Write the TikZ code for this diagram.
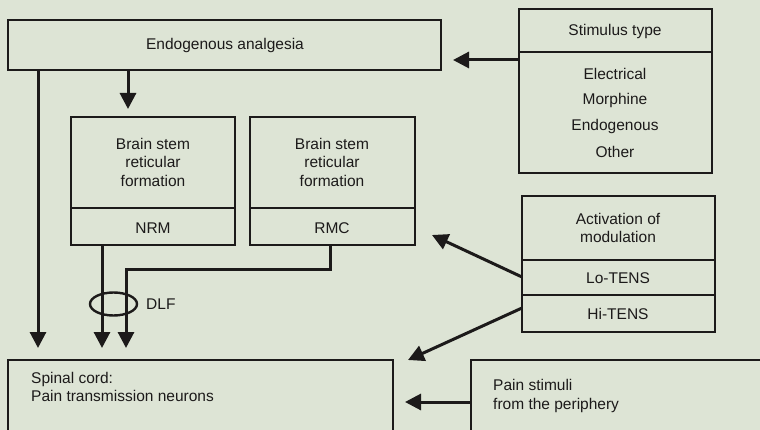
\documentclass[tikz,border=0pt]{standalone}
\usepackage{fontspec}
\setmainfont{Liberation Sans}
\usepackage{tikz}
\usetikzlibrary{arrows.meta,backgrounds,positioning}
\definecolor{paper}{RGB}{221,228,213}
\definecolor{ink}{RGB}{28,26,26}
\pgfdeclarelayer{bglayer}
\pgfdeclarelayer{edgelayer}
\pgfdeclarelayer{nodelayer}
\pgfsetlayers{bglayer,nodelayer,main,edgelayer}
\tikzset{
	box/.style={draw=ink, line width=1.7pt},
	txt/.style={text=ink, font={\fontsize{15.5}{18.5}\selectfont}, align=center, inner sep=0pt},
	fat/.style={draw=ink, line width=3pt, -{Triangle[length=16pt,width=16pt]}},
}

\begin{document}
\begin{tikzpicture}[x=1pt, y=-1pt, thick]
	\useasboundingbox (0,0) rectangle (760,430);
	\clip (0,0) rectangle (760,430);
	\begin{pgfonlayer}{bglayer}
		\fill [paper] (0,0) rectangle (760,430);
	\end{pgfonlayer}
	\begin{pgfonlayer}{nodelayer}
		% corners of the boxes
		\node [] (0) at (8, 20) {};
		\node [] (1) at (441, 70) {};
		\node [] (2) at (71, 117) {};
		\node [] (3) at (235, 245) {};
		\node [] (4) at (71, 208) {};
		\node [] (5) at (235, 208) {};
		\node [] (6) at (250, 117) {};
		\node [] (7) at (415, 245) {};
		\node [] (8) at (250, 208) {};
		\node [] (9) at (415, 208) {};
		\node [] (10) at (519, 9) {};
		\node [] (11) at (712, 173) {};
		\node [] (12) at (519, 52) {};
		\node [] (13) at (712, 52) {};
		\node [] (14) at (522, 196) {};
		\node [] (15) at (715, 332) {};
		\node [] (16) at (522, 260) {};
		\node [] (17) at (715, 260) {};
		\node [] (18) at (522, 295) {};
		\node [] (19) at (715, 295) {};
		\node [] (20) at (8, 360) {};
		\node [] (21) at (393, 445) {};
		\node [] (22) at (471, 360) {};
		\node [] (23) at (775, 445) {};
		% connector ends
		\node [] (24) at (38, 70) {};
		\node [] (25) at (38, 348) {};
		\node [] (26) at (128, 70) {};
		\node [] (27) at (128, 109) {};
		\node [] (28) at (102, 245) {};
		\node [] (29) at (102, 348) {};
		\node [] (30) at (330, 245) {};
		\node [] (31) at (330, 270) {};
		\node [] (32) at (126, 270) {};
		\node [] (33) at (126, 348) {};
		\node [] (34) at (519, 60) {};
		\node [] (35) at (453, 60) {};
		\node [] (36) at (522, 277) {};
		\node [] (37) at (432, 235) {};
		\node [] (38) at (522, 308) {};
		\node [] (39) at (408, 360) {};
		\node [] (40) at (471, 402) {};
		\node [] (41) at (405, 402) {};
		\node [] (42) at (113.5, 304) {};
		% texts
		\node [txt] (43) at (225, 45) {Endogenous analgesia};
		\node [txt] (44) at (153, 162) {Brain stem\\reticular\\formation};
		\node [txt] (45) at (153, 228) {NRM};
		\node [txt] (46) at (332, 162) {Brain stem\\reticular\\formation};
		\node [txt] (47) at (332, 228) {RMC};
		\node [txt] (48) at (615, 31) {Stimulus type};
		\node [txt] (49) at (615, 74) {Electrical};
		\node [txt] (50) at (615, 100) {Morphine};
		\node [txt] (51) at (615, 126) {Endogenous};
		\node [txt] (52) at (615, 152) {Other};
		\node [txt] (53) at (618, 228) {Activation of\\modulation};
		\node [txt] (54) at (618, 278) {Lo-TENS};
		\node [txt] (55) at (618, 314) {Hi-TENS};
		\node [txt, right, align=left] (56) at (31, 387) {Spinal cord:\\Pain transmission neurons};
		\node [txt, right, align=left] (57) at (493, 396) {Pain stimuli\\from the periphery};
		\node [txt, right] (58) at (146, 304) {DLF};
	\end{pgfonlayer}
	\begin{pgfonlayer}{edgelayer}
		\draw [box] (0.center) rectangle (1.center);
		\draw [box] (2.center) rectangle (3.center);
		\draw [box] (4.center) to (5.center);
		\draw [box] (6.center) rectangle (7.center);
		\draw [box] (8.center) to (9.center);
		\draw [box] (10.center) rectangle (11.center);
		\draw [box] (12.center) to (13.center);
		\draw [box] (14.center) rectangle (15.center);
		\draw [box] (16.center) to (17.center);
		\draw [box] (18.center) to (19.center);
		\draw [box] (20.center) rectangle (21.center);
		\draw [box] (22.center) rectangle (23.center);
		\draw [fat] (24.center) to (25.center);
		\draw [fat] (26.center) to (27.center);
		\draw [fat] (28.center) to (29.center);
		\draw [fat] (30.center) to (31.center) to (32.center) to (33.center);
		\draw [fat] (34.center) to (35.center);
		\draw [fat] (36.center) to (37.center);
		\draw [fat] (38.center) to (39.center);
		\draw [fat] (40.center) to (41.center);
		\draw [draw=ink, line width=2.4pt] (42.center) ellipse [x radius=23.5, y radius=11.5];
	\end{pgfonlayer}
\end{tikzpicture}
\end{document}
